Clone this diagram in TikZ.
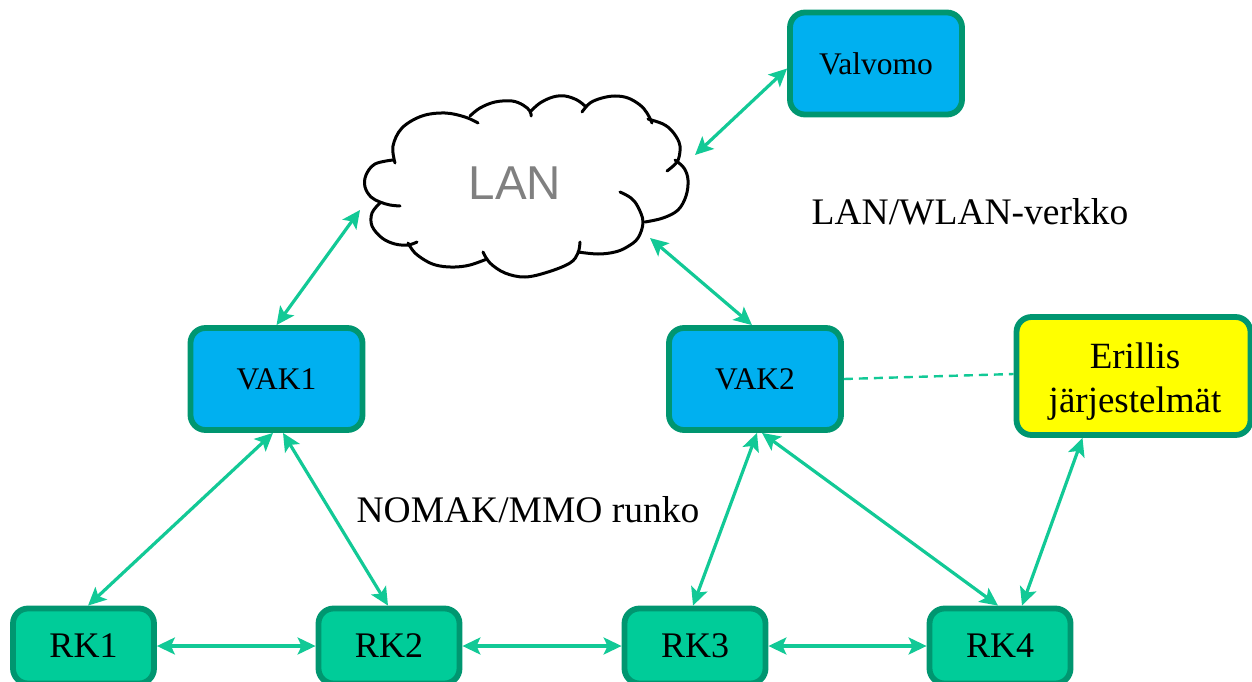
\documentclass[tikz,border=0pt]{standalone}
\usepackage{fontspec}
\setmainfont{Liberation Serif}
\newfontfamily\lansans{Liberation Sans}
\usetikzlibrary{arrows.meta}
\definecolor{rimgreen}{HTML}{009670}
\definecolor{rkgreen}{HTML}{00CC99}
\definecolor{linkgreen}{HTML}{12C996}
\definecolor{vakblue}{HTML}{00B0F0}
\definecolor{sysyellow}{HTML}{FFFF00}
\definecolor{langray}{HTML}{808080}
\tikzset{
  box/.style={draw=rimgreen, line width=5.8pt, rounded corners=15pt, align=center, inner sep=0pt},
  bluebox/.style={box, fill=vakblue, minimum width=172pt, minimum height=102pt, font=\fontsize{31.5}{35}\selectfont},
  rkbox/.style={box, fill=rkgreen, minimum width=141pt, minimum height=75pt, font=\fontsize{36}{40}\selectfont},
  sysbox/.style={box, fill=sysyellow, minimum width=234pt, minimum height=118pt},
  systext/.style={align=center, inner sep=0pt, font=\fontsize{37}{44}\selectfont},
  tip/.tip={Stealth[length=18pt,width=17pt,inset=4pt]},
  link/.style={draw=linkgreen, line width=3.2pt, tip-tip},
  dlink/.style={draw=linkgreen, line width=2.4pt, dash pattern=on 9pt off 6pt},
  label/.style={font=\fontsize{37.5}{41}\selectfont, inner sep=0pt},
  puff/.style={draw=black, line width=3pt, line cap=round}
}
\begin{document}
\begin{tikzpicture}[x=1pt,y=-1pt]
\useasboundingbox (0,0) rectangle (1252,682);

% LAN cloud, drawn puff by puff
\begin{scope}[puff, smooth, tension=0.6]
  \draw plot coordinates {(393,160) (375,164) (366,175) (365,187) (371,197) (380,202) (390,205) (400,206)};
  \draw plot coordinates {(395,163) (393,146) (402,128) (422,116) (445,113) (465,117) (478,123)};
  \draw plot coordinates {(470,116) (480,108) (495,102) (512,101) (523,105) (530,111) (531,116)};
  \draw plot coordinates {(530,112) (540,103) (553,97) (565,96) (577,100) (585,106)};
  \draw plot coordinates {(582,112) (590,103) (602,98) (615,96) (628,98) (640,105) (647,113) (652,123)};
  \draw plot coordinates {(648,119) (663,124) (672,131) (679,142) (680,151) (677,162) (667,171)};
  \draw plot coordinates {(675,160) (684,168) (688,180) (686,196) (678,210) (663,218) (645,222)};
  \draw plot coordinates {(620,192) (631,198) (638,207) (643,222) (638,238) (627,247) (615,252) (598,254) (578,252)};
  \draw plot coordinates {(580,242) (578,253) (570,263) (548,272) (525,277) (505,273) (490,263) (483,252)};
  \draw plot coordinates {(408,243) (415,253) (428,262) (440,266) (455,267) (470,265) (487,259)};
  \draw plot coordinates {(380,203) (372,213) (372,226) (382,238) (395,244) (408,245) (417,242)};
\end{scope}
\node[font=\lansans\fontsize{47.5}{52}\selectfont, text=langray] (lantext) at (515,183) {LAN};
\coordinate (lanNE) at (695,155);
\coordinate (lanW) at (360,210);
\coordinate (lanSE) at (650,238);

% boxes
\node[bluebox] (valvomo) at (876,63.5) {Valvomo};
\node[bluebox] (vak1) at (276.5,379) {VAK1};
\node[bluebox] (vak2) at (755,379) {VAK2};
\node[sysbox] (sys) at (1133.5,376) {};
\node[systext] (systxt) at (1135,381.5) {Erillis\\järjestelmät};
\node[rkbox] (rk1) at (83.5,646) {RK1};
\node[rkbox] (rk2) at (389,646) {RK2};
\node[rkbox] (rk3) at (695,646) {RK3};
\node[rkbox] (rk4) at (1000,646) {RK4};

% labels
\node[label] (wlan) at (970,212) {LAN/WLAN-verkko};
\node[label] (nomak) at (528,510) {NOMAK/MMO runko};

% connections
\draw[link] ([yshift=-5pt]valvomo.west) -- (lanNE);
\draw[link] (lanW) -- (vak1.north);
\draw[link] (lanSE) -- ([xshift=-3pt]vak2.north);
\draw[link] ([xshift=-3.5pt]vak1.south) -- ([xshift=4.5pt]rk1.north);
\draw[link] ([xshift=6.5pt]vak1.south) -- ([xshift=-1pt]rk2.north);
\draw[link] ([xshift=2pt]vak2.south) -- ([xshift=-2pt]rk3.north);
\draw[link] ([xshift=7pt]vak2.south) -- ([xshift=-2pt]rk4.north);
\draw[link] ([xshift=-51pt]sys.south) -- ([xshift=22pt]rk4.north);
\draw[link] (rk1.east) -- (rk2.west);
\draw[link] (rk2.east) -- (rk3.west);
\draw[link] (rk3.east) -- (rk4.west);
\draw[dlink] (vak2.east) -- ([yshift=2pt]sys.west);
\end{tikzpicture}
\end{document}
